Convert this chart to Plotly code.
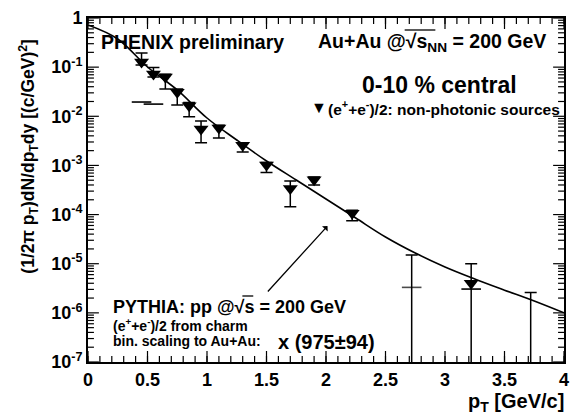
import numpy as np
import plotly.graph_objects as go

# ---------------- data ----------------
pt = [0.45, 0.55, 0.65, 0.75, 0.85, 0.95, 1.1, 1.3, 1.5, 1.7, 1.9, 2.22, 3.22]
yld = [0.127, 0.0725, 0.063, 0.031, 0.0163, 0.0055, 0.0058, 0.00258, 0.00102,
       3.4e-4, 5.1e-4, 1.07e-4, 4.0e-6]
y_hi = [0.194, 0.098, 0.072, 0.036, 0.019, 0.008, 0.0066, 0.0029, 0.00115,
        4.8e-4, 5.8e-4, 1.23e-4, 1.0e-5]
y_lo = [0.110, 0.063, 0.036, 0.0169, 0.0098, 0.0029, 0.0036, 0.00188, 0.00072,
        1.45e-4, 4.0e-4, 7.5e-5, 1e-9]

# points consistent with zero (only a dash / bar drawn)
pt_z = [2.72, 3.72]
yld_z = [3.3e-6, 2.6e-6]
y_hi_z = [1.5e-5, 2.6e-6]
y_lo_z = [1e-9, 1e-9]

# isolated horizontal dashes
pt_d = [0.45, 0.55, 3.22]
yld_d = [0.0195, 0.0177, 3.05e-6]

# PYTHIA charm curve (scaled)
pt_curve = [0, 0.25, 0.5, 0.75, 1.0, 1.25, 1.5, 1.75, 2.0, 2.25, 2.5, 2.75,
            3.0, 3.25, 3.5, 3.75, 4.0]
y_curve = [0.72, 0.374, 0.1007, 0.0343, 0.00923, 0.00329, 0.00123, 5.05e-4,
           2.07e-4, 8.5e-5, 3.5e-5, 1.65e-5, 8.6e-6, 4.9e-6, 2.9e-6, 1.74e-6,
           1.0e-6]

ytick_vals = [1, 1e-1, 1e-2, 1e-3, 1e-4, 1e-5, 1e-6, 1e-7]
ytick_text = ["1", "10<sup>-1</sup>", "10<sup>-2</sup>", "10<sup>-3</sup>",
              "10<sup>-4</sup>", "10<sup>-5</sup>", "10<sup>-6</sup>",
              "10<sup>-7</sup>"]
xtick_vals = [0, 0.5, 1, 1.5, 2, 2.5, 3, 3.5, 4]
xtick_text = ["0", "0.5", "1", "1.5", "2", "2.5", "3", "3.5", "4"]

# minor tick positions
x_minor = [round(v, 2) for v in np.arange(0, 4.001, 0.1)]
y_minor = [m * 10.0 ** e for e in range(-7, 0) for m in range(2, 10)]

X_RANGE = [0, 4]
Y_RANGE = [-7, 0]

# ---------------- layout geometry ----------------
W, H = 575, 414
L, R, T, B = 88, 6, 18, 52
PW, PH = W - L - R, H - T - B

def px(x):
    return (x - L) / PW

def py(y):
    return (H - B - y) / PH

FONT = "Liberation Sans, Arial, sans-serif"

fig = go.Figure()

# ---- tick marks drawn inside the frame on all four sides (ROOT style) ----
MAJ, MIN = 11, 6
xs_span = X_RANGE[1] - X_RANGE[0]
ys_span = Y_RANGE[1] - Y_RANGE[0]
tx, ty = [], []
for vals, ln in ((xtick_vals, MAJ), (x_minor, MIN)):
    dl = ln / PH * ys_span
    for v in vals:
        tx += [v, v, None, v, v, None]
        ty += [10 ** Y_RANGE[0], 10 ** (Y_RANGE[0] + dl), None,
               10 ** Y_RANGE[1], 10 ** (Y_RANGE[1] - dl), None]
for vals, ln in ((ytick_vals, MAJ), (y_minor, MIN)):
    dl = ln / PW * xs_span
    for v in vals:
        tx += [X_RANGE[0], X_RANGE[0] + dl, None, X_RANGE[1], X_RANGE[1] - dl, None]
        ty += [v, v, None, v, v, None]
fig.add_trace(go.Scatter(x=tx, y=ty, mode="lines", line=dict(color="black", width=1.2),
                         showlegend=False, hoverinfo="skip"))

fig.add_trace(go.Scatter(
    x=pt_curve, y=y_curve, mode="lines", line=dict(color="black", width=1.6, shape="spline"),
    showlegend=False, hoverinfo="skip"))

fig.add_trace(go.Scatter(
    x=pt, y=yld, mode="markers",
    marker=dict(symbol="triangle-down", size=13, color="black"),
    error_y=dict(type="data", symmetric=False,
                 array=[h - v for h, v in zip(y_hi, yld)],
                 arrayminus=[v - l for v, l in zip(yld, y_lo)],
                 color="black", thickness=1.5, width=6),
    showlegend=False))

fig.add_trace(go.Scatter(
    x=pt_z, y=yld_z, mode="markers",
    marker=dict(symbol="line-ew", size=[14, 0], color="black",
                line=dict(color="black", width=1.6)),
    error_y=dict(type="data", symmetric=False,
                 array=[h - v for h, v in zip(y_hi_z, yld_z)],
                 arrayminus=[v - l for v, l in zip(yld_z, y_lo_z)],
                 color="black", thickness=1.5, width=6),
    showlegend=False))

fig.add_trace(go.Scatter(
    x=pt_d, y=yld_d, mode="markers",
    marker=dict(symbol="line-ew", size=14, color="black",
                line=dict(color="black", width=1.6)),
    showlegend=False))

axis_common = dict(
    showline=True, linecolor="black", linewidth=2, mirror=True,
    ticks="", showgrid=False, zeroline=False,
    tickfont=dict(family=FONT, size=18, color="black", weight="bold"),
)
fig.update_xaxes(range=X_RANGE, tickmode="array", tickvals=xtick_vals,
                 ticktext=xtick_text, **axis_common)
fig.update_yaxes(type="log", range=Y_RANGE, tickmode="array", tickvals=ytick_vals,
                 ticktext=ytick_text, **axis_common)

ann = []

def text(x, y, s, size, xanchor="left", yanchor="middle", angle=0):
    ann.append(dict(x=px(x), y=py(y), xref="paper", yref="paper", text=s,
                    showarrow=False, xanchor=xanchor, yanchor=yanchor, textangle=angle,
                    font=dict(family=FONT, size=size, color="black", weight="bold")))

text(27, 156, "(1/2π p<sub>T</sub>)dN/dp<sub>T</sub>dy [(c/GeV)<sup>2</sup>]", 17.5,
     xanchor="center", angle=-90)
text(571, 402, "p<sub>T</sub> [GeV/c]", 20, xanchor="right")
text(99, 42, "PHENIX preliminary", 19.5)
text(318, 42, "Au+Au @√s<sub>NN</sub> = 200 GeV", 19.5)
text(363, 85, "0-10 % central", 23)
text(311, 107, "▼", 16)
text(328, 108, "(e<sup>+</sup>+e<sup>-</sup>)/2: non-photonic sources", 15.5)
text(111, 307, "PYTHIA: pp @√s = 200 GeV", 18)
text(111, 325, "(e<sup>+</sup>+e<sup>-</sup>)/2 from charm", 14)
text(111, 341, "bin. scaling to Au+Au:", 14)
text(278, 342, "x (975±94)", 20)

# arrow pointing to the curve
ann.append(dict(x=px(330), y=py(226), xref="paper", yref="paper", text="",
                showarrow=True, ax=269 - 330, ay=293 - 226, arrowhead=1,
                arrowsize=1, arrowwidth=1.3, arrowcolor="black"))

# overlines of the square-root signs
shapes = [
    dict(type="line", xref="paper", yref="paper", x0=px(408), x1=px(439),
         y0=py(30), y1=py(30), line=dict(color="black", width=1.3)),
    dict(type="line", xref="paper", yref="paper", x0=px(244), x1=px(255),
         y0=py(296), y1=py(296), line=dict(color="black", width=1.3)),
]

fig.update_layout(
    width=W, height=H, margin=dict(l=L, r=R, t=T, b=B),
    paper_bgcolor="white", plot_bgcolor="white",
    annotations=ann, shapes=shapes, showlegend=False,
    font=dict(family=FONT, color="black"),
)

fig.write_html("out.html")
